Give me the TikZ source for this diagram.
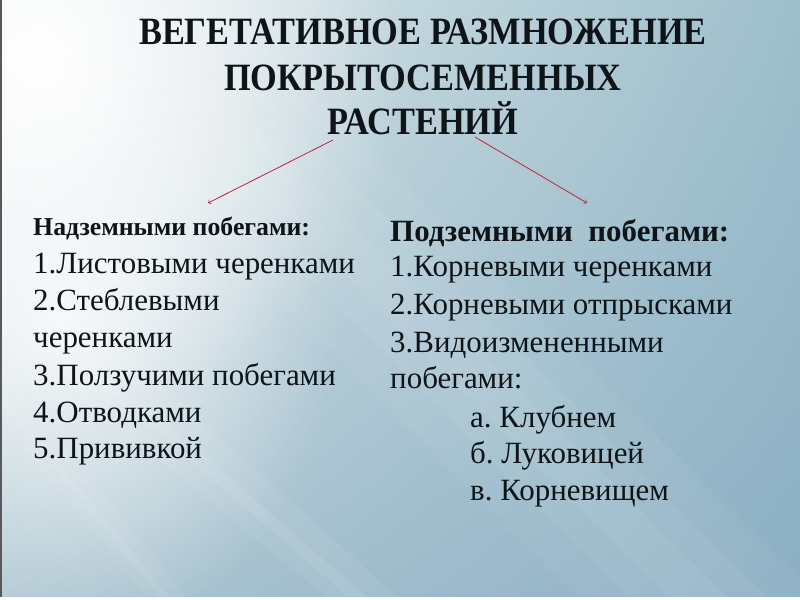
\documentclass[tikz,border=0pt]{standalone}
\usepackage{fontspec}
\setmainfont{Liberation Serif}
\usetikzlibrary{fadings,shadings}
\frenchspacing

\definecolor{bgul}{HTML}{E8EEF1}
\definecolor{bgur}{HTML}{9DBFCB}
\definecolor{bgll}{HTML}{AFC7D2}
\definecolor{bglr}{HTML}{8CAFC4}
\definecolor{ink}{HTML}{0E1418}
\definecolor{arrowred}{HTML}{C0283C}

\newcommand\titlesqueeze[1]{\scalebox{1.11}[1.25]{#1}}

\tikzfading[name=glow, inner color=transparent!0, outer color=transparent!100]

\tikzset{
  heading/.style={anchor=base, inner sep=0pt, text=ink,
    font=\bfseries\fontsize{26.4}{30}\selectfont},
  item/.style={anchor=base west, inner sep=0pt, text=ink,
    font=\fontsize{26.4}{30}\selectfont},
  group/.style={item, font=\bfseries\fontsize{26.4}{30}\selectfont},
  subgroup/.style={item, font=\bfseries\fontsize{22}{26}\selectfont},
  glint/.style={fill=white, opacity=#1},
  branch/.style={->, arrowred, line width=.7pt}
}

\begin{document}
\begin{tikzpicture}[x=0.3mm, y=-0.3mm]
\useasboundingbox (0,0) rectangle (800,600);

% background
\begin{scope}
\clip (0,0) rectangle (800,600);
\shade[upper left=bgul, upper right=bgur, lower left=bgll, lower right=bglr]
  (0,0) rectangle (800,600);
\fill[white, path fading=glow] (40,60) circle (360);
\fill[white, path fading=glow, opacity=.8] (60,320) ellipse (280 and 320);
% broad diagonal light
\fill[glint=.05] (-60,-40) -- (180,-40) -- (820,600) -- (580,600) -- cycle;
\fill[glint=.05] (-10,-40) -- (130,-40) -- (770,600) -- (630,600) -- cycle;
\fill[glint=.05] (30,-40) -- (90,-40) -- (730,600) -- (670,600) -- cycle;
% lower streaks
\fill[glint=.06] (0,240) -- (0,330) -- (330,600) -- (400,600) -- cycle;
\fill[glint=.08] (0,278) -- (0,298) -- (352,600) -- (370,600) -- cycle;
\fill[glint=.06] (0,370) -- (0,420) -- (150,600) -- (190,600) -- cycle;
\fill[glint=.07] (0,390) -- (0,402) -- (162,600) -- (172,600) -- cycle;
\fill[gray!70!black] (0,0) rectangle (2,600);
\fill[white] (0,597) rectangle (800,600);
\end{scope}

% title
\node[heading] (title1) at (423,45) {\titlesqueeze{ВЕГЕТАТИВНОЕ РАЗМНОЖЕНИЕ}};
\node[heading] (title2) at (423,91) {\titlesqueeze{ПОКРЫТОСЕМЕННЫХ}};
\node[heading] (title3) at (423,135) {\titlesqueeze{РАСТЕНИЙ}};

% branches
\coordinate (lfrom) at (333,140);
\coordinate (lto) at (208,203);
\coordinate (rfrom) at (475,137);
\coordinate (rto) at (587,203);
\draw[branch] (lfrom) -- (lto);
\draw[branch] (rfrom) -- (rto);

% above ground
\node[subgroup] (lhead) at (33,236) {Надземными побегами:};
\node[item] (l1) at (33,274) {1.Листовыми черенками};
\node[item] (l2) at (33,310) {2.Стеблевыми};
\node[item] (l2b) at (33,347) {черенками};
\node[item] (l3) at (33,385) {3.Ползучими побегами};
\node[item] (l4) at (33,422) {4.Отводками};
\node[item] (l5) at (33,458) {5.Прививкой};

% under ground
\node[group] (rhead) at (390,242) {Подземными\ \ побегами:};
\node[item] (r1) at (390,277) {1.Корневыми черенками};
\node[item] (r2) at (390,314) {2.Корневыми отпрысками};
\node[item] (r3) at (390,352) {3.Видоизмененными};
\node[item] (r3b) at (390,388) {побегами:};
\node[item] (ra) at (470,427) {а. Клубнем};
\node[item] (rb) at (470,463) {б. Луковицей};
\node[item] (rc) at (470,500) {в. Корневищем};

\end{tikzpicture}
\end{document}
